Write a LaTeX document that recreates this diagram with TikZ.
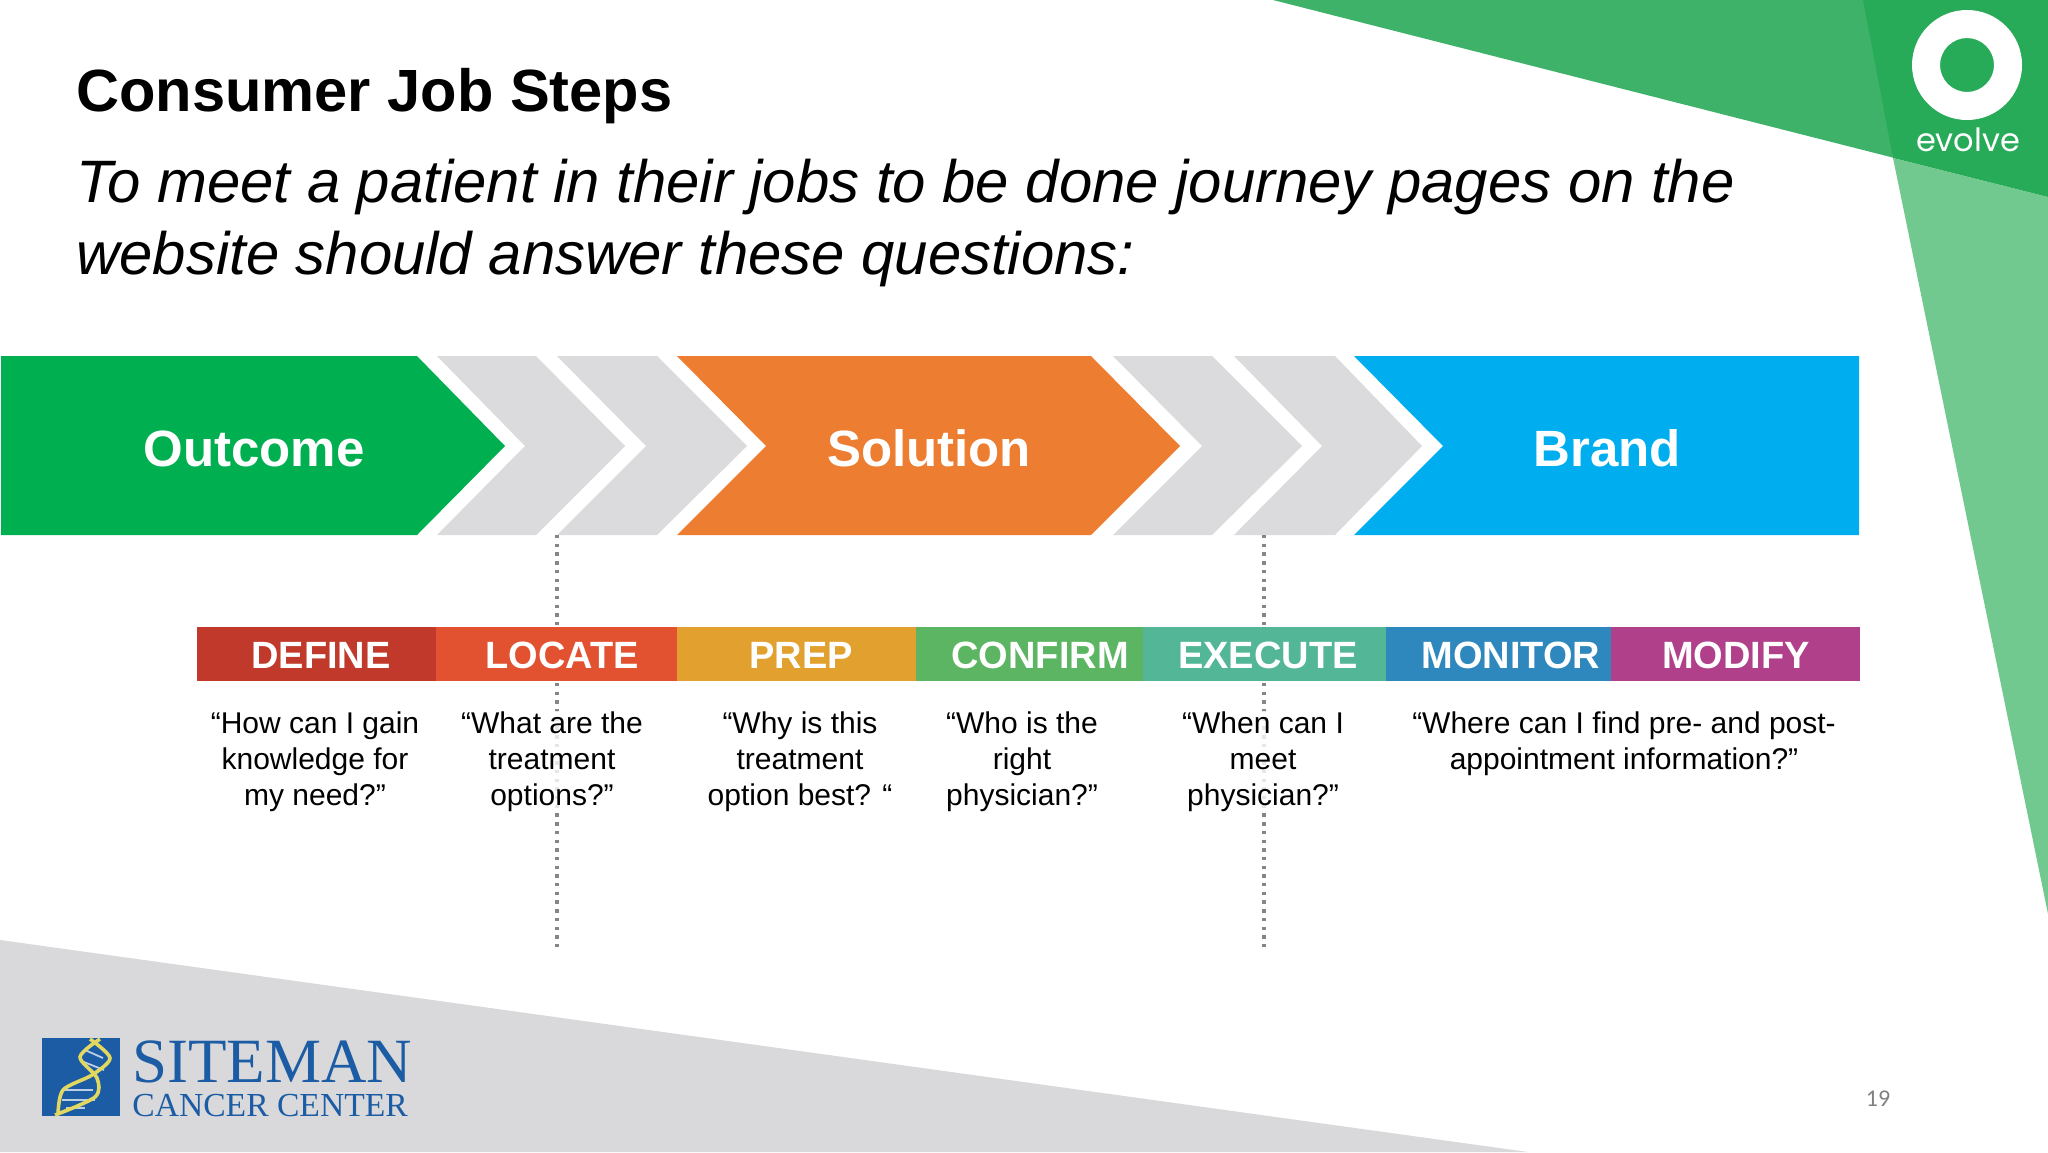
\documentclass[tikz,border=0pt]{standalone}
\usepackage{fontspec}
\setmainfont{Liberation Sans}
\newfontfamily\logoserif{Liberation Serif}
\newfontfamily\logosans{Poppins}
\newfontfamily\pagefont{Carlito}
\usetikzlibrary{positioning}
\definecolor{topgreen}{HTML}{3FB26A}
\definecolor{darkgreen}{HTML}{28AB59}
\definecolor{palegreen}{HTML}{72C98F}
\definecolor{footgray}{HTML}{D9D8DA}
\definecolor{chevgray}{HTML}{DBDADC}
\definecolor{outcomegreen}{HTML}{00B050}
\definecolor{solutionorange}{HTML}{ED7D31}
\definecolor{brandblue}{HTML}{00AEEF}
\definecolor{sitemanblue}{HTML}{1B5CA4}
\definecolor{dotgray}{HTML}{85858A}
\definecolor{helixyellow}{HTML}{E3D85F}
\tikzset{
    bigstep/.style={anchor=base,text=white,font=\bfseries\fontsize{25.5}{30}\selectfont},
    barlabel/.style={anchor=base,text=white,font=\bfseries\fontsize{19}{22}\selectfont},
    question/.style={anchor=north,inner sep=0pt,align=center,fill=white,fill opacity=0.8,text opacity=1,font=\fontsize{15}{18}\selectfont},
    dots/.style={draw=dotgray,line width=1.7pt,dash pattern=on 1.7pt off 2.65pt},
    helix/.style={draw=helixyellow,line width=1.8pt},
    rung/.style={draw=white!70!sitemanblue,line width=0.9pt}
}
\begin{document}
\begin{tikzpicture}[x=0.5pt,y=-0.5pt]
    \useasboundingbox (0,0) rectangle (2048,1152);
    % background
    \fill[topgreen] (1273,0)--(2048,197)--(2048,0)--cycle;
    \fill[darkgreen] (1863,0)--(1893,158)--(2048,197)--(2048,0)--cycle;
    \fill[palegreen] (1893,158)--(2048,197)--(2048,914)--cycle;
    \fill[footgray] (0,940)--(1528,1152)--(0,1152)--cycle;

    % logo top right
    \fill[white,even odd rule] (1967,65) circle (55) (1967,65) circle (27);
    \node[text=white,font=\logosans\fontsize{16}{18}\selectfont] (evolve) at (1968,140) {evolve};

    % logo bottom left
    \fill[sitemanblue] (42,1038) rectangle (120,1116);
    \draw[rung] (85,1050)--(103,1058);
    \draw[rung] (84,1062)--(104,1070);
    \draw[rung] (64,1090)--(93,1090);
    \draw[rung] (62,1100)--(95,1100);
    \draw[rung] (66,1108)--(85,1108);
    \draw[helix] plot[smooth] coordinates {(90,1039) (110,1058) (92,1075) (63,1090) (58,1115)};
    \draw[helix] plot[smooth] coordinates {(100,1039) (80,1057) (97,1078) (95,1097) (55,1115)};
    \node[anchor=base west,inner sep=0pt,text=sitemanblue,font=\logoserif\fontsize{31.5}{34}\selectfont] (siteman) at (132,1082) {SITEMAN};
    \node[anchor=base west,inner sep=0pt,text=sitemanblue,font=\logoserif\fontsize{16.8}{20}\selectfont] (cancer) at (132,1116) {CANCER CENTER};

    % heading
    \node[anchor=base west,inner sep=0pt,font=\bfseries\fontsize{29.8}{36}\selectfont] (title) at (76,111) {Consumer Job Steps};
    \node[anchor=north west,inner sep=0pt,align=left,font=\itshape\fontsize{29.93}{36}\selectfont] (subtitle) at (76,159) {To meet a patient in their jobs to be done journey pages on the\\website should answer these questions:};

    % chevrons
    \fill[outcomegreen] (1,356)--(417,356)--(505,446)--(417,535)--(1,535)--cycle;
    \foreach \a/\b/\c/\d in {437/525/536/625,557/646/657/747,1113/1202/1212/1302,1234/1322/1335/1422}
        \fill[chevgray] (\a,356)--(\c,356)--(\d,446)--(\c,535)--(\a,535)--(\b,446)--cycle;
    \fill[solutionorange] (677,356)--(1091,356)--(1180,446)--(1091,535)--(677,535)--(766,446)--cycle;
    \fill[brandblue] (1354,356)--(1859,356)--(1859,535)--(1354,535)--(1443,446)--cycle;
    \node[bigstep] (outcome) at (254,466) {Outcome};
    \node[bigstep] (solution) at (929,466) {Solution};
    \node[bigstep] (brand) at (1607,466) {Brand};

    % dotted lines
    \coordinate (locatetop) at (557,535);
    \coordinate (locateend) at (557,947);
    \coordinate (executetop) at (1264,535);
    \coordinate (executeend) at (1264,947);
    \draw[dots] (locatetop)--(locateend);
    \draw[dots] (executetop)--(executeend);

    % job steps
    \foreach \a/\b/\col in {197/436/C0392B,436/677/E25130,677/916/E2A02E,916/1143/5CB562,1143/1386/53B697,1386/1611/2F88BD,1611/1860/B1408A}{
        \definecolor{barcol}{HTML}{\col}
        \fill[barcol] (\a,627) rectangle (\b,681);
    }
    \node[barlabel] (define) at (321,668) {DEFINE};
    \node[barlabel] (locate) at (562,668) {LOCATE};
    \node[barlabel] (prep) at (801,668) {PREP};
    \node[barlabel] (confirm) at (1040,668) {CONFIRM};
    \node[barlabel] (execute) at (1268,668) {EXECUTE};
    \node[barlabel] (monitor) at (1511,668) {MONITOR};
    \node[barlabel] (modify) at (1736,668) {MODIFY};

    % questions
    \node[question] (qdefine) at (315,711) {“How can I gain\\knowledge for\\my need?”};
    \node[question] (qlocate) at (552,711) {“What are the\\treatment\\options?”};
    \node[question] (qprep) at (800,711) {“Why is this\\treatment\\option best? “};
    \node[question] (qconfirm) at (1022,711) {“Who is the\\right\\physician?”};
    \node[question] (qexecute) at (1263,711) {“When can I\\meet\\physician?”};
    \node[question] (qmonitor) at (1624,711) {“Where can I find pre- and post-\\appointment information?”};

    \node[text=gray,font=\pagefont\fontsize{12}{14}\selectfont] (pagenum) at (1878,1099) {19};
\end{tikzpicture}
\end{document}
